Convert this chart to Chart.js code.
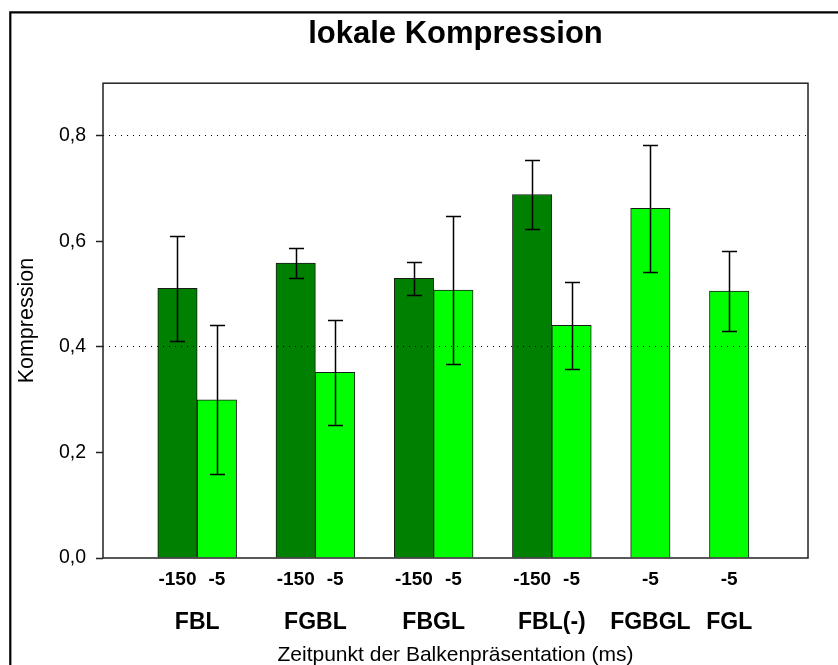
<!DOCTYPE html>
<html>
<head>
<meta charset="utf-8">
<title>lokale Kompression</title>
<script src="https://cdn.jsdelivr.net/npm/chart.js@4/dist/chart.umd.min.js"></script>
<style>
  html, body { margin: 0; padding: 0; background: #fff; }
  canvas { display: block; }
</style>
</head>
<body>
<canvas id="c" width="838" height="665"></canvas>
<script>
// Conditions and onset times of the bar presentation (ms)
const groups = ['FBL', 'FGBL', 'FBGL', 'FBL(-)', 'FGBGL', 'FGL'];
const onsetLabels = ['-150', '-5'];

// Mean compression per condition (null = onset not tested)
const early = [0.511, 0.559, 0.530, 0.689, null, null];     // -150 ms
const earlyErr = [0.100, 0.028, 0.032, 0.066, null, null];
const late = [0.300, 0.352, 0.508, 0.441, 0.663, 0.506];    // -5 ms
const lateErr = [0.141, 0.099, 0.141, 0.083, 0.120, 0.075];

// Value axis
const yTicks = [0, 0.2, 0.4, 0.6, 0.8];
const dottedAt = [0.4, 0.8];

const series = [
  { label: onsetLabels[0], values: early, errors: earlyErr, color: '#008000' },
  { label: onsetLabels[1], values: late, errors: lateErr, color: '#00ff00' }
];

// Lay bars out slot by slot: one slot per tested onset, one empty slot between conditions
const points = series.map(() => []);
const barTicks = [];
const groupTicks = [];
let slot = 1;
groups.forEach((g, gi) => {
  const first = slot;
  series.forEach((s, si) => {
    if (s.values[gi] == null) return;
    points[si].push({ x: slot, y: s.values[gi], err: s.errors[gi] });
    barTicks.push({ value: slot, label: s.label });
    slot++;
  });
  groupTicks.push({ value: (first + slot - 1) / 2, label: g });
  slot++;
});

const X_MIN = -0.89, X_MAX = 17.0;

Chart.defaults.font.family = "'Liberation Sans', Arial, Helvetica, sans-serif";
Chart.defaults.color = '#000';

// Outer frame of the figure (left and top edges)
const figureFrame = {
  id: 'figureFrame',
  beforeDraw(chart) {
    const { ctx, width, height } = chart;
    ctx.save();
    ctx.fillStyle = '#fff';
    ctx.fillRect(0, 0, width, height);
    ctx.strokeStyle = '#000';
    ctx.lineWidth = 2.2;
    ctx.beginPath();
    ctx.moveTo(10.3, height);
    ctx.lineTo(10.3, 12.3);
    ctx.lineTo(width, 12.3);
    ctx.stroke();
    ctx.restore();
  }
};

// Whiskers: mean ± error for every bar
const errorBars = {
  id: 'errorBars',
  afterDatasetsDraw(chart) {
    const { ctx } = chart;
    const y = chart.scales.y;
    const cap = 7.5;
    ctx.save();
    ctx.strokeStyle = '#000';
    ctx.lineWidth = 1.5;
    chart.data.datasets.forEach((ds, di) => {
      const meta = chart.getDatasetMeta(di);
      meta.data.forEach((bar, i) => {
        const p = ds.data[i];
        if (p.err == null) return;
        const x = Math.round(bar.x) + 0.5;
        const yTop = Math.round(y.getPixelForValue(p.y + p.err)) + 0.5;
        const yBot = Math.round(y.getPixelForValue(p.y - p.err)) + 0.5;
        ctx.beginPath();
        ctx.moveTo(x, yTop); ctx.lineTo(x, yBot);
        ctx.moveTo(x - cap, yTop); ctx.lineTo(x + cap, yTop);
        ctx.moveTo(x - cap, yBot); ctx.lineTo(x + cap, yBot);
        ctx.stroke();
      });
    });
    ctx.restore();
  }
};

// Box around the plotting area
const plotBox = {
  id: 'plotBox',
  afterDraw(chart) {
    const { ctx, chartArea: a } = chart;
    ctx.save();
    ctx.strokeStyle = '#222';
    ctx.lineWidth = 1.5;
    ctx.strokeRect(a.left, a.top, a.right - a.left, a.bottom - a.top);
    ctx.restore();
  }
};

new Chart(document.getElementById('c'), {
  type: 'bar',
  data: {
    datasets: series.map((s, si) => ({
      label: s.label,
      data: points[si],
      backgroundColor: s.color,
      borderColor: '#1a1a1a',
      borderWidth: 1,
      grouped: false,
      barPercentage: 1,
      categoryPercentage: 1
    }))
  },
  options: {
    responsive: false,
    devicePixelRatio: 1,
    animation: false,
    layout: { padding: { left: 0, right: 30, top: 0, bottom: 0 } },
    plugins: {
      legend: { display: false },
      tooltip: { enabled: false },
      title: {
        display: true,
        fullSize: false,
        text: 'lokale Kompression',
        color: '#000',
        font: { size: 31, weight: 'bold' },
        padding: { top: 16, bottom: 30 }
      }
    },
    scales: {
      x: {
        type: 'linear',
        position: 'bottom',
        offset: false,
        weight: 0,
        min: X_MIN,
        max: X_MAX,
        afterBuildTicks: s => { s.ticks = barTicks.map(t => ({ value: t.value })); },
        afterFit: s => { s.height = 40; },
        grid: { display: false, drawTicks: false },
        border: { display: false },
        ticks: {
          autoSkip: false,
          maxRotation: 0,
          padding: 10,
          color: '#000',
          font: { size: 19, weight: 'bold' },
          callback: (v, i) => barTicks[i] ? barTicks[i].label : ''
        }
      },
      groups: {
        type: 'linear',
        position: 'bottom',
        offset: false,
        weight: 1,
        min: X_MIN,
        max: X_MAX,
        afterBuildTicks: s => { s.ticks = groupTicks.map(t => ({ value: t.value })); },
        afterFit: s => { s.height = 67; },
        grid: { display: false, drawTicks: false },
        border: { display: false },
        ticks: {
          autoSkip: false,
          maxRotation: 0,
          padding: 11,
          color: '#000',
          font: { size: 23, weight: 'bold' },
          callback: (v, i) => groupTicks[i] ? groupTicks[i].label : ''
        },
        title: {
          display: true,
          text: 'Zeitpunkt der Balkenpräsentation (ms)',
          color: '#000',
          font: { size: 21, lineHeight: 1 },
          padding: { top: 0, bottom: -1 }
        }
      },
      y: {
        min: 0,
        max: 0.9,
        afterBuildTicks: s => { s.ticks = yTicks.map(v => ({ value: v })); },
        afterFit: s => { s.width = 103; },
        grid: {
          z: 1,
          lineWidth: 1,
          color: c => (c.tick && dottedAt.includes(c.tick.value)) ? '#000' : 'rgba(0,0,0,0)',
          drawTicks: true,
          tickLength: 7,
          tickColor: '#222',
          tickWidth: 1.5
        },
        border: { display: false, dash: [1, 5] },
        ticks: {
          padding: 10,
          color: '#000',
          font: { size: 19.5 },
          callback: v => v.toFixed(1).replace('.', ',')
        },
        title: {
          display: true,
          text: 'Kompression',
          color: '#000',
          font: { size: 21.5 },
          padding: { top: 14, bottom: 0 }
        }
      }
    }
  },
  plugins: [figureFrame, errorBars, plotBox]
});
</script>
</body>
</html>
